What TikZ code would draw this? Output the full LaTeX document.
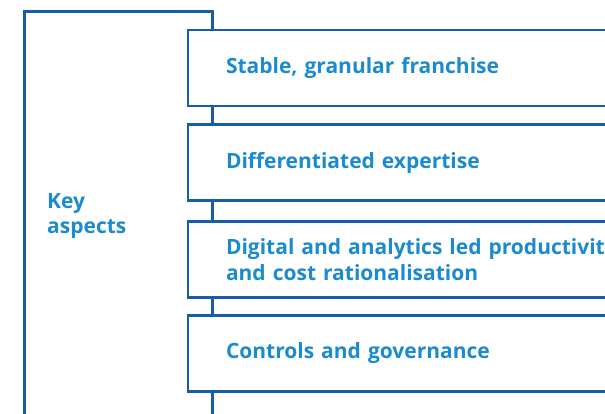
\documentclass[tikz,border=0pt]{standalone}
\usepackage{fontspec}
\newfontfamily\keyfont{Open Sans}
\definecolor{lineblue}{HTML}{165FA6}
\definecolor{textblue}{HTML}{1C8BCE}
\usetikzlibrary{positioning}

\begin{document}
\begin{tikzpicture}[x=1pt, y=-1pt,
    frame/.style={draw=lineblue, line width=2.5pt, outer sep=0pt, anchor=north west},
    aspect/.style={draw=lineblue, fill=white, line width=2.5pt, outer sep=0pt, anchor=north west,
        minimum height=76pt, text width=420pt, inner xsep=38pt, align=left,
        font=\keyfont\bfseries\fontsize{21}{25.5}\selectfont, text=textblue},
    keytext/.style={font=\keyfont\bfseries\fontsize{21}{25.5}\selectfont, text=textblue, align=left, anchor=west, inner sep=0pt}
]
    \useasboundingbox (0,0) rectangle (605,413);
    \clip (0,0) rectangle (605,413);

    \node[frame, minimum width=188pt, minimum height=440pt] (keyframe) at (24.5,11.5) {};
    \node[keytext] (keylabel) at (47,216) {Key\\aspects};

    \node[aspect] (franchise) at (188,30) {Stable, granular franchise};
    \node[aspect] (expertise) at (188,124.5) {Differentiated expertise};
    \node[aspect] (digital) at (188,221.5) {Digital and analytics led productivity\\and cost rationalisation};
    \node[aspect] (controls) at (188,315.5) {Controls and governance};
\end{tikzpicture}
\end{document}
